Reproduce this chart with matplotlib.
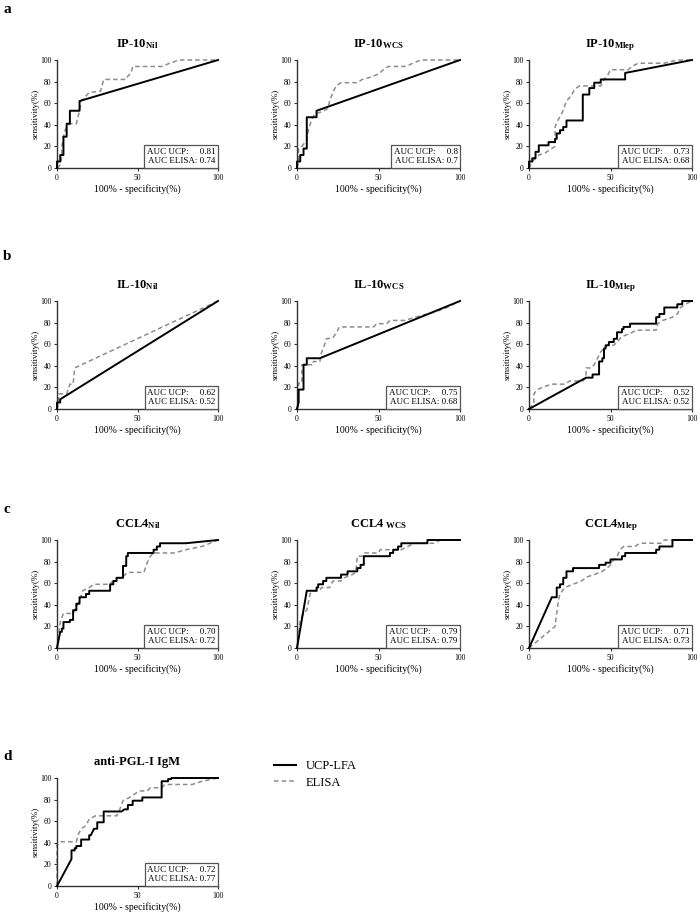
import matplotlib
matplotlib.use("Agg")
import matplotlib.pyplot as plt
from matplotlib.lines import Line2D

plt.rcParams['font.family'] = ['Liberation Serif', 'DejaVu Serif']
plt.rcParams['mathtext.fontset'] = 'custom'
plt.rcParams['mathtext.rm'] = 'Liberation Serif'
plt.rcParams['mathtext.bf'] = 'Liberation Serif:bold'
plt.rcParams['mathtext.it'] = 'Liberation Serif:italic'

# ---------------- data (x = 100% - specificity, y = sensitivity) ----------------
titles = [r'IP-10$_{\mathbf{Nil}}$', r'IP-10$_{\mathbf{WCS}}$', r'IP-10$_{\mathbf{Mlep}}$',
          r'IL-10$_{\mathbf{Nil}}$', r'IL-10$_{\mathbf{WCS}}$', r'IL-10$_{\mathbf{Mlep}}$',
          r'CCL4$_{\mathbf{Nil}}$', r'CCL4 $_{\mathbf{WCS}}$', r'CCL4$_{\mathbf{Mlep}}$',
          'anti-PGL-I IgM']
auc_ucp = ['0.81', '0.8', '0.73', '0.62', '0.75', '0.52', '0.70', '0.79', '0.71', '0.72']
auc_elisa = ['0.74', '0.7', '0.68', '0.52', '0.68', '0.52', '0.72', '0.79', '0.73', '0.77']
panel_letters = ['a', 'b', 'c', 'd']

ucp_ip10_nil = [(0,0),(0,6),(2,6),(2,12),(4,12),(4,29),(6,29),(6,41),(8,41),(8,53),(14,53),(14,62),(100,100)]
elisa_ip10_nil = [(0,0),(2,3),(3,12),(3,20),(4,29),(5,35),(6,38),(8,41),(12,41),(13,47),(14,53),(15,62),
                  (17,65),(20,70),(27,71),(29,82),(43,82),(44,85),(46,88),(47,94),(65,94),(70,97),(76,100),(100,100)]

ucp_ip10_wcs = [(0,0),(0,6),(2,6),(2,12),(4,12),(4,18),(6,18),(6,47),(12,47),(12,53),(100,100)]
elisa_ip10_wcs = [(0,0),(1,6),(1,18),(3,20),(5,24),(6,26),(7,35),(9,45),(11,50),(15,52),(19,55),(20,62),
                  (22,70),(24,76),(27,79),(37,79),(40,82),(45,84),(50,87),(53,91),(56,94),(67,94),(71,97),
                  (76,100),(100,100)]

ucp_ip10_mlep = [(0,0),(0,6),(2,6),(2,9),(4,9),(4,15),(6,15),(6,21),(12,21),(12,24),(16,24),(16,27),(17,27),
                 (17,32),(19,32),(19,35),(21,35),(21,38),(23,38),(23,44),(33,44),(33,68),(37,68),(37,74),
                 (40,74),(40,79),(44,79),(44,82),(59,82),(59,88),(100,100)]
elisa_ip10_mlep = [(0,0),(2,6),(4,9),(6,12),(10,14),(14,18),(16,20),(16,38),(18,45),(20,50),(23,62),(26,67),
                   (28,73),(31,76),(44,76),(46,82),(48,85),(50,91),(61,91),(63,94),(67,97),(83,97),(91,100),
                   (100,100)]

ucp_il10_nil = [(0,0),(0,6),(2,6),(2,9),(100,100)]
elisa_il10_nil = [(0,0),(1,6),(1,14),(6,14),(8,23),(10,23),(11,38),(100,100)]

ucp_il10_wcs = [(0,0),(1,6),(1,18),(4,18),(4,41),(6,41),(6,47),(14,47),(100,100)]
elisa_il10_wcs = [(0,0),(1,6),(1,24),(3,24),(3,41),(10,41),(10,44),(14,44),(15,52),(17,60),(18,65),(22,66),
                  (24,70),(26,76),(47,76),(49,79),(55,79),(57,82),(66,82),(75,86),(85,90),(92,94),(100,100)]

ucp_il10_mlep = [(0,0),(35,29),(39,29),(39,32),(43,32),(43,44),(45,44),(45,47),(46,47),(46,56),(47,56),
                 (47,59),(49,59),(49,62),(52,62),(52,65),(54,65),(54,71),(57,71),(57,74),(58,74),(58,76),
                 (62,76),(62,79),(78,79),(78,85),(80,85),(80,88),(83,88),(83,94),(91,94),(91,97),(94,97),
                 (94,100),(100,100)]
elisa_il10_mlep = [(0,0),(3,6),(3,14),(5,18),(10,21),(14,23),(22,23),(25,26),(33,26),(35,29),(35,38),(38,38),
                   (40,41),(42,47),(44,53),(46,56),(48,59),(52,59),(54,62),(57,67),(62,70),(66,73),(78,73),
                   (79,79),(82,82),(88,85),(91,88),(93,94),(96,97),(100,100)]

ucp_ccl4_nil = [(0,0),(2,15),(3,15),(3,18),(4,18),(4,24),(8,24),(8,26),(10,26),(10,35),(12,35),(12,41),
                (14,41),(14,47),(18,47),(18,50),(20,50),(20,53),(33,53),(33,59),(35,59),(35,62),(37,62),
                (37,65),(41,65),(41,76),(43,76),(43,85),(44,85),(44,88),(60,88),(60,91),(62,91),(62,94),
                (64,94),(64,97),(80,97),(100,100)]
elisa_ccl4_nil = [(0,0),(1,12),(2,24),(4,32),(10,32),(12,38),(14,44),(16,53),(20,56),(23,59),(32,59),(35,62),
                  (37,65),(40,65),(44,70),(54,70),(56,79),(58,85),(60,88),(73,88),(80,91),(90,94),(95,97),
                  (100,100)]

ucp_ccl4_wcs = [(0,0),(6,53),(12,53),(12,56),(13,56),(13,59),(16,59),(16,62),(18,62),(18,65),(27,65),(27,68),
                (31,68),(31,71),(37,71),(37,74),(39,74),(39,77),(41,77),(41,85),(57,85),(57,88),(59,88),
                (59,91),(62,91),(62,94),(64,94),(64,97),(80,97),(80,100),(100,100)]
elisa_ccl4_wcs = [(0,0),(1,12),(2,26),(4,32),(6,35),(8,50),(10,53),(14,53),(15,56),(20,56),(22,62),(27,62),
                  (29,65),(34,68),(36,70),(37,85),(40,85),(41,88),(50,88),(51,91),(64,91),(68,94),(72,97),
                  (84,97),(88,100),(100,100)]

ucp_ccl4_mlep = [(0,0),(14,47),(17,47),(17,56),(19,56),(19,59),(21,59),(21,65),(23,65),(23,71),(27,71),
                 (27,74),(43,74),(43,77),(47,77),(47,79),(50,79),(50,82),(57,82),(57,85),(59,85),(59,88),
                 (78,88),(78,91),(80,91),(80,94),(88,94),(88,100),(100,100)]
elisa_ccl4_mlep = [(0,0),(16,20),(17,32),(18,44),(19,50),(22,56),(27,59),(32,62),(36,66),(40,68),(45,71),
                   (48,74),(50,77),(52,82),(54,85),(56,91),(58,94),(65,94),(68,97),(81,97),(83,100),(100,100)]

ucp_pgl = [(0,0),(9,25),(9,33),(11,33),(11,35),(12,35),(12,37),(15,37),(15,43),(20,43),(20,47),(21,47),
           (23,53),(25,53),(25,59),(29,59),(29,69),(40,69),(42,71),(44,71),(44,75),(47,75),(47,79),(53,79),
           (53,82),(65,82),(65,97),(69,97),(69,99),(71,99),(71,100),(100,100)]
elisa_pgl = [(0,0),(0,38),(2,41),(12,41),(13,47),(15,53),(18,56),(20,62),(24,65),(37,65),(39,71),(41,79),
             (45,82),(48,85),(51,88),(56,88),(58,91),(65,91),(67,94),(84,94),(90,97),(100,100)]

ucp_curves = [ucp_ip10_nil, ucp_ip10_wcs, ucp_ip10_mlep, ucp_il10_nil, ucp_il10_wcs, ucp_il10_mlep,
              ucp_ccl4_nil, ucp_ccl4_wcs, ucp_ccl4_mlep, ucp_pgl]
elisa_curves = [elisa_ip10_nil, elisa_ip10_wcs, elisa_ip10_mlep, elisa_il10_nil, elisa_il10_wcs,
                elisa_il10_mlep, elisa_ccl4_nil, elisa_ccl4_wcs, elisa_ccl4_mlep, elisa_pgl]

# ---------------- layout ----------------
W, H = 700, 914
fig = plt.figure(figsize=(W / 100, H / 100), dpi=100)

col_left = [57, 297, 529]
col_w = [161, 163, 163]
row_top = [60, 301, 540, 778]
ax_h = 108
letter_y = [3, 250, 503, 750]

GRAY = '#8c8c8c'

for i in range(10):
    r, c = divmod(i, 3)
    left, width = col_left[c], col_w[c]
    top = row_top[r]
    ax = fig.add_axes([left / W, 1 - (top + ax_h) / H, width / W, ax_h / H])
    ux, uy = zip(*ucp_curves[i])
    ex, ey = zip(*elisa_curves[i])
    ax.plot(ex, ey, color=GRAY, lw=1.1, ls=(0, (3, 2)), zorder=2, clip_on=False)
    ax.plot(ux, uy, color='black', lw=1.4, zorder=3, clip_on=False)
    ax.set_xlim(0, 100)
    ax.set_ylim(0, 100)
    ax.set_xticks([0, 50, 100])
    ax.set_yticks([0, 20, 40, 60, 80, 100])
    for s in ['top', 'right']:
        ax.spines[s].set_visible(False)
    for s in ['left', 'bottom']:
        ax.spines[s].set_linewidth(1.0)
        ax.spines[s].set_color('#333333')
    ax.tick_params(direction='out', length=2.5, width=0.8, labelsize=5.5, pad=1.5, color='#333333')
    ax.set_xlabel('100% - specificity(%)', fontsize=7, labelpad=2)
    ax.set_ylabel('sensitivity(%)', fontsize=6.5, labelpad=0.5)
    ax.set_title(titles[i], fontsize=9, fontweight='bold', pad=9)
    txt = 'AUC UCP:     ' + auc_ucp[i] + '\nAUC ELISA: ' + auc_elisa[i]
    ax.text(0.985, 0.025, txt, transform=ax.transAxes, ha='right', va='bottom', fontsize=6.5,
            linespacing=1.25,
            bbox=dict(boxstyle='square,pad=0.3', fc='white', ec='#555555', lw=0.9), zorder=5)

for k, lt in enumerate(panel_letters):
    fig.text(3 / W, 1 - letter_y[k] / H, lt, fontsize=11, fontweight='bold', va='top', ha='left')

# legend
legend_handles = [Line2D([0], [0], color='black', lw=1.5),
                  Line2D([0], [0], color=GRAY, lw=1.1, ls=(0, (3, 2)))]
fig.legend(legend_handles, ['UCP-LFA', 'ELISA'], loc='upper left',
           bbox_to_anchor=(263 / W, 1 - 749 / H), frameon=False, fontsize=9,
           handlelength=1.7, handletextpad=0.8, labelspacing=0.35)

fig.savefig('out.png', dpi=100)
